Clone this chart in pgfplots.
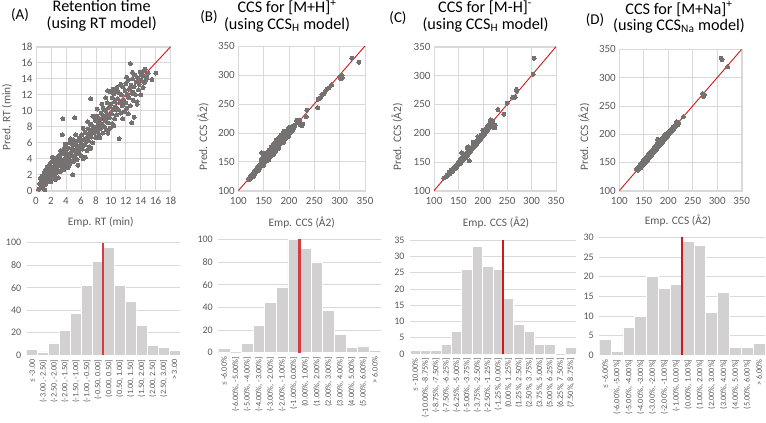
\documentclass[border=0pt]{standalone}
\usepackage{pgfplots}
\pgfplotsset{compat=1.18}
\usepackage{fontspec}
\setmainfont{Carlito}
\definecolor{gridgray}{RGB}{217,217,217}
\definecolor{tickgray}{RGB}{89,89,89}
\definecolor{dotgray}{RGB}{118,113,113}
\definecolor{barfill}{RGB}{210,208,208}
\definecolor{redl}{RGB}{205,25,25}
\definecolor{redh}{RGB}{212,60,65}
\newcommand{\fs}[1]{\fontsize{#1}{#1}\selectfont}
\pgfplotsset{
  scat/.style={scale only axis, axis line style={draw=gridgray}, grid=major,
    major grid style={draw=gridgray, line width=0.6pt}, tick style={draw=none},
    tick label style={font=\fs{11}, color=tickgray},
    /pgf/number format/assume math mode=true,
    xticklabel style={yshift=-3pt}},
  dots/.style={only marks, mark=*, mark size=2pt, color=dotgray, mark options={fill=dotgray, draw=dotgray, line width=0pt}},
  hist/.style={scale only axis, axis line style={draw=none}, ymajorgrids,
    major grid style={draw=gridgray, line width=0.6pt}, tick style={draw=none},
    /pgf/number format/assume math mode=true, ymin=0,
    yticklabel style={font=\fs{10}, color=tickgray, xshift=-2pt},
    xticklabel style={font=\fs{8.2}, color=tickgray, rotate=90, anchor=east, inner sep=4pt}},
  bars/.style={ybar, bar width=1, fill=barfill, draw=white, line width=0.8pt}
}
\begin{document}
\begin{tikzpicture}
\useasboundingbox (0,0) rectangle (766pt,-423pt);
% ---------------- Scatter A
\begin{axis}[scat, at={(36pt,-190.7pt)}, anchor=south west, width=134.7pt, height=144pt,
  xmin=0, xmax=18, ymin=0, ymax=18, xtick={0,2,...,18}, ytick={0,2,...,18}]
\addplot[dots] coordinates {
(0.4,0.2)(0.5,0.9)(0.6,0.4)(0.7,1.3)(0.8,0.6)(0.8,1.8)(0.9,0.9)(1.0,1.5)(1.0,0.3)(1.1,2.2)(1.2,1.0)(1.2,1.7)(1.3,2.6)(1.3,0.8)(1.4,1.4)(1.5,2.1)(1.5,3.0)(1.6,1.2)(1.7,2.5)(1.8,1.6)(1.8,3.3)(1.9,2.0)(2.0,2.8)(2.0,1.1)(2.1,3.6)(2.2,2.3)(2.3,1.7)(2.3,3.0)(2.4,2.6)(2.5,3.9)(2.5,1.9)(2.6,3.3)(2.7,2.2)(2.8,4.1)(2.8,3.0)(2.9,2.5)(3.0,3.7)(3.0,1.6)(3.1,4.4)(3.2,3.2)(3.3,2.4)(3.3,5.0)(3.4,3.8)(3.5,2.9)(3.5,4.6)(3.6,3.4)(3.7,5.2)(3.7,2.6)(3.8,4.0)(3.9,3.1)(4.0,4.8)(4.0,5.6)(4.1,3.6)(4.2,4.3)(4.3,2.9)(4.3,5.3)(4.4,4.0)(4.5,3.3)(4.5,6.0)(4.6,4.7)(4.7,3.7)(4.8,5.2)(4.9,2.0)(4.9,4.4)(5.0,6.4)(5.0,3.6)(5.1,5.0)(5.2,4.1)(5.3,5.7)(5.4,4.6)(5.5,6.2)(5.5,3.9)(5.6,5.3)(5.7,4.8)(5.8,6.6)(5.9,5.6)(6.0,4.4)(6.0,6.0)(6.1,7.0)(6.2,5.2)(6.3,4.0)(6.4,6.4)(6.5,5.7)(6.6,7.3)(6.6,4.2)(6.7,6.1)(6.8,5.0)(6.9,6.8)(7.0,7.7)(7.0,6.3)(7.1,5.5)(7.2,7.1)(7.3,8.3)(7.4,6.7)(7.5,7.6)(7.6,6.0)(7.7,8.0)(7.8,7.2)(7.9,8.8)(8.0,6.6)(8.0,7.9)(8.1,9.3)(8.2,7.4)(8.3,8.5)(8.4,6.9)(8.5,9.0)(8.6,7.8)(8.7,9.7)(8.8,8.3)(8.9,7.2)(9.0,9.3)(9.0,10.3)(9.1,8.0)(9.2,8.8)(9.3,10.0)(9.4,7.6)(9.5,9.5)(9.5,11.0)(9.6,8.5)(9.7,10.4)(9.8,9.1)(9.9,12.4)(9.9,7.8)(10.0,10.8)(10.1,9.6)(10.2,11.6)(10.2,8.4)(10.3,10.2)(10.4,12.1)(10.5,9.0)(10.5,11.1)(10.6,10.5)(10.7,12.6)(10.8,9.5)(10.9,11.5)(11.0,10.1)(11.0,12.3)(11.1,6.5)(11.2,11.0)(11.3,9.7)(11.4,12.0)(11.5,10.6)(11.6,13.0)(11.7,11.4)(11.8,9.9)(11.9,12.5)(12.0,11.0)(12.0,13.4)(12.1,10.3)(12.2,12.0)(12.3,13.8)(12.4,11.6)(12.5,12.8)(12.6,10.6)(12.6,15.9)(12.7,13.2)(12.8,8.5)(12.8,12.2)(12.9,14.0)(13.0,11.3)(13.1,9.2)(13.1,13.0)(13.2,14.5)(13.3,12.0)(13.4,13.6)(13.5,11.1)(13.6,14.1)(13.7,12.6)(13.8,13.3)(13.9,14.8)(14.0,12.0)(14.1,13.8)(14.2,14.4)(14.3,12.9)(14.4,15.0)(14.5,13.5)(14.6,15.2)(14.8,14.2)(15.0,14.7)(15.5,13.9)(16.0,14.7)
(3.6,9.0)(5.2,9.1)(3.5,7.0)(7.3,11.5)(10.3,12.7)(9.6,12.5)(1.2,0.1)(0.6,1.6)(2.2,4.2)(2.6,1.4)(3.9,5.8)(4.6,6.5)(5.3,7.0)(6.3,7.8)(6.9,8.6)(7.6,9.3)(8.2,10.2)(8.8,10.8)(9.3,11.6)(10.8,12.9)(11.3,13.3)(12.1,14.2)(12.9,14.8)(5.6,3.2)(7.3,5.3)(8.5,6.6)(9.6,7.2)(10.4,8.1)(11.6,9.0)(12.3,9.6)(13.5,10.8)(6.1,6.4)(7.4,7.3)(8.3,8.1)(9.4,9.0)(10.7,10.1)(11.8,11.0)(13.0,12.3)(14.1,14.6)(14.7,13.9)(4.1,4.5)(4.9,5.8)(5.8,5.5)(3.2,4.1)(2.9,3.5)(1.6,2.0)(2.4,2.0)
};
\addplot[redl, line width=0.9pt] coordinates {(0,0)(18,18)};
\end{axis}
% ---------------- Scatter B
\begin{axis}[scat, at={(238.3pt,-190.7pt)}, anchor=south west, width=126.7pt, height=144.7pt,
  xmin=100, xmax=350, ymin=100, ymax=350, xtick={100,150,...,350}, ytick={100,150,...,350}]
\addplot[dots] coordinates {
(120,121)(122,119)(124,126)(125,122)(127,124)(128,129)(129,126)(130,131)(131,127)(132,134)(133,130)(134,136)(135,132)(136,138)(137,134)(138,141)(139,136)(140,143)(140,139)(141,137)(142,145)(143,141)(144,147)(144,142)(145,149)(146,145)(146,166)(147,151)(148,146)(149,153)(150,148)(150,155)(151,151)(152,157)(153,150)(153,159)(154,154)(155,160)(156,152)(156,162)(157,157)(158,164)(159,155)(160,166)(160,160)(161,163)(162,168)(163,158)(163,170)(164,165)(165,172)(166,162)(166,168)(167,174)(168,165)(168,171)(169,176)(170,167)(170,173)(171,178)(172,170)(172,182)(173,175)(174,168)(174,180)(175,176)(176,184)(176,172)(177,179)(178,186)(178,174)(179,182)(180,188)(180,177)(181,184)(182,190)(182,180)(183,186)(184,192)(184,182)(185,188)(186,194)(186,184)(187,190)(188,196)(188,186)(189,192)(190,198)(190,188)(191,194)(192,200)(192,190)(193,196)(194,202)(194,192)(195,198)(196,204)(196,194)(197,200)(198,206)(198,196)(199,202)(200,208)(200,198)(201,204)(202,210)(202,200)(203,206)(204,208)(205,202)(206,211)(207,205)(208,212)(209,208)(210,210)(212,214)
(170,181)(175,187)(180,192)(165,176)(160,170)(185,197)(190,203)(155,165)(150,160)(145,154)(150,144)(160,153)(170,163)(180,173)(190,184)(200,194)(140,135)(130,125)
(215,222)(218,220)(220,217)(222,214)(225,212)(227,215)(221,222)(234,228)(235,239)(257,243)(258,258)(262,261)(265,266)(268,267)(271,270)(275,275)(279,278)(284,283)(300,297)(302,293)(305,295)(305,299)(324,329)(338,322)
};
\addplot[redl, line width=0.9pt] coordinates {(100,100)(350,350)};
\end{axis}
% ---------------- Scatter C
\begin{axis}[scat, at={(434pt,-190.7pt)}, anchor=south west, width=122pt, height=144pt,
  xmin=100, xmax=350, ymin=100, ymax=350, xtick={100,150,...,350}, ytick={100,150,...,350}]
\addplot[dots] coordinates {
(120,122)(124,124)(127,128)(129,127)(131,132)(133,130)(135,136)(136,133)(138,137)(139,135)(140,140)(141,137)(143,141)(144,138)(145,143)(146,140)(148,146)(149,144)(150,149)(151,146)(152,150)(153,147)(154,153)(155,149)(156,155)(157,151)(157,166)(158,157)(159,153)(160,158)(161,155)(162,160)(163,157)(164,163)(165,159)(166,162)(167,165)(168,161)(168,174)(169,167)(170,164)(170,176)(171,169)(172,152)(172,166)(173,171)(174,168)(175,174)(176,170)(177,175)(178,172)(179,177)(180,174)(180,184)(181,179)(182,176)(183,181)(184,178)(185,183)(186,180)(187,186)(188,182)(189,187)(190,185)(190,194)(191,189)(192,186)(193,191)(194,188)(195,193)(196,190)(197,196)(198,193)(199,197)(200,195)(200,205)(201,199)(202,196)(203,201)(204,198)(205,205)(206,202)(207,208)(208,204)(209,210)(210,206)(211,212)(212,208)(213,214)(214,210)(215,218)(216,223)(218,216)(220,221)(222,212)(224,209)(225,214)(219,219)(231,241)(243,233)(250,252)(261,262)(266,262)(269,276)(270,273)(303,302)(305,330)
};
\addplot[redl, line width=0.9pt] coordinates {(100,100)(350,350)};
\end{axis}
% ---------------- Scatter D
\begin{axis}[scat, at={(619.3pt,-190.7pt)}, anchor=south west, width=122.4pt, height=141.4pt,
  xmin=100, xmax=350, ymin=100, ymax=350, xtick={100,150,...,350}, ytick={100,150,...,350}]
\addplot[dots] coordinates {
(135,138)(137,140)(138,136)(140,142)(141,139)(143,145)(144,141)(145,147)(146,143)(147,150)(148,145)(149,152)(150,147)(151,154)(152,149)(153,156)(154,151)(155,158)(156,153)(157,160)(158,155)(159,162)(160,157)(160,165)(161,159)(162,166)(163,160)(164,168)(165,162)(166,170)(167,164)(168,172)(169,166)(170,174)(170,168)(171,176)(172,170)(173,178)(174,172)(175,180)(176,174)(177,182)(178,176)(178,191)(179,183)(180,178)(181,186)(182,180)(183,188)(184,182)(185,190)(186,184)(187,192)(188,186)(189,194)(190,188)(191,196)(192,190)(193,198)(194,192)(195,200)(196,194)(197,199)(198,196)(199,202)(200,198)(201,204)(202,200)(203,206)(204,202)(205,208)(206,204)(207,210)(208,206)(209,212)(210,208)(211,213)(212,210)(214,214)(216,218)(217,222)(219,216)(221,220)(231,231)(270,272)(272,267)(274,270)(308,334)(310,332)(321,319)
};
\addplot[redl, line width=0.9pt] coordinates {(100,100)(350,350)};
\end{axis}
% ---------------- Histogram A
\begin{axis}[hist, at={(26.7pt,-355.3pt)}, anchor=south west, width=153.3pt, height=112.6pt,
  xmin=-0.5, xmax=13.5, ymax=100, ytick={0,20,...,100}, xtick={0,...,13},
  xticklabels={{≤ -3.00},{(-3.00, -2.50]},{(-2.50, -2.00]},{(-2.00, -1.50]},{(-1.50, -1.00]},{(-1.00, -0.50]},{(-0.50, 0.00]},{(0.00, 0.50]},{(0.50, 1.00]},{(1.00, 1.50]},{(1.50, 2.00]},{(2.00, 2.50]},{(2.50, 3.00]},{> 3.00}}]
\addplot[bars] coordinates {(0,5)(1,3)(2,11)(3,22)(4,37)(5,62)(6,83)(7,96)(8,62)(9,48)(10,27)(11,9)(12,7)(13,4)};
\addplot[redh, line width=2.2pt] coordinates {(6.5,0)(6.5,100)};
\end{axis}
% ---------------- Histogram B
\begin{axis}[hist, at={(218.3pt,-352.7pt)}, anchor=south west, width=162.4pt, height=113.4pt,
  xmin=-0.5, xmax=13.5, ymax=100, ytick={0,20,...,100}, xtick={0,...,13},
  xticklabels={{≤ -6.00\%},{(-6.00\%, -5.00\%]},{(-5.00\%, -4.00\%]},{(-4.00\%, -3.00\%]},{(-3.00\%, -2.00\%]},{(-2.00\%, -1.00\%]},{(-1.00\%, 0.00\%]},{(0.00\%, 1.00\%]},{(1.00\%, 2.00\%]},{(2.00\%, 3.00\%]},{(3.00\%, 4.00\%]},{(4.00\%, 5.00\%]},{(5.00\%, 6.00\%]},{> 6.00\%}}]
\addplot[bars] coordinates {(0,4)(2,8)(3,24)(4,44)(5,58)(6,100)(7,92)(8,80)(9,37)(10,16)(11,5)(12,6)(13,2)};
\addplot[redh, line width=2.2pt] coordinates {(6.5,0)(6.5,100)};
\end{axis}
% ---------------- Histogram C
\begin{axis}[hist, at={(410pt,-354pt)}, anchor=south west, width=166pt, height=114pt,
  xmin=-0.5, xmax=15.5, ymax=35, ytick={0,5,...,35}, xtick={0,...,15},
  xticklabels={{≤ -10.00\%},{(-10.00\%, -8.75\%]},{(-8.75\%, -7.50\%]},{(-7.50\%, -6.25\%]},{(-6.25\%, -5.00\%]},{(-5.00\%, -3.75\%]},{(-3.75\%, -2.50\%]},{(-2.50\%, -1.25\%]},{(-1.25\%, 0.00\%]},{(0.00\%, 1.25\%]},{(1.25\%, 2.50\%]},{(2.50\%, 3.75\%]},{(3.75\%, 5.00\%]},{(5.00\%, 6.25\%]},{(6.25\%, 7.50\%]},{(7.50\%, 8.75\%]}}]
\addplot[bars] coordinates {(0,1)(1,1)(2,1)(3,3)(4,7)(5,26)(6,33)(7,27)(8,26)(9,17)(10,9)(11,7)(12,3)(13,3)(15,2)};
\addplot[redl, line width=2pt] coordinates {(8.5,0)(8.5,35)};
\end{axis}
% ---------------- Histogram D
\begin{axis}[hist, at={(599.3pt,-355.3pt)}, anchor=south west, width=165.7pt, height=118pt,
  xmin=-0.5, xmax=13.5, ymax=30, ytick={0,5,...,30}, xtick={0,...,13},
  xticklabels={{≤ -6.00\%},{(-6.00\%, -5.00\%]},{(-5.00\%, -4.00\%]},{(-4.00\%, -3.00\%]},{(-3.00\%, -2.00\%]},{(-2.00\%, -1.00\%]},{(-1.00\%, 0.00\%]},{(0.00\%, 1.00\%]},{(1.00\%, 2.00\%]},{(2.00\%, 3.00\%]},{(3.00\%, 4.00\%]},{(4.00\%, 5.00\%]},{(5.00\%, 6.00\%]},{> 6.00\%}}]
\addplot[bars] coordinates {(0,4)(1,1)(2,7)(3,10)(4,20)(5,17)(6,18)(7,29)(8,28)(9,11)(10,16)(11,2)(12,2)(13,3)};
\addplot[redl, line width=1.6pt] coordinates {(6.5,0)(6.5,30)};
\end{axis}
% ---------------- Titles and labels
\begin{scope}[every node/.style={inner sep=0pt}]
\node[anchor=base, font=\fs{15}] at (20pt,-19.5pt) {(A)};
\node[anchor=base, font=\fs{16.2}] at (101.7pt,-11.7pt) {Retention time};
\node[anchor=base, font=\fs{16.2}] at (101.7pt,-28.5pt) {(using RT model)};
\node[anchor=base, font=\fs{15}] at (209pt,-21pt) {(B)};
\node[anchor=base, font=\fs{16.2}] at (287pt,-12.7pt) {CCS for [M+H]\textsuperscript{+}};
\node[anchor=base, font=\fs{16.2}] at (287pt,-29.3pt) {(using CCS\textsubscript{H} model)};
\node[anchor=base, font=\fs{15}] at (398pt,-22.5pt) {(C)};
\node[anchor=base, font=\fs{16.2}] at (485pt,-12.7pt) {CCS for [M-H]\textsuperscript{-}};
\node[anchor=base, font=\fs{16.2}] at (485.5pt,-29.3pt) {(using CCS\textsubscript{H} model)};
\node[anchor=base, font=\fs{15}] at (595pt,-24pt) {(D)};
\node[anchor=base, font=\fs{16.2}] at (679pt,-14pt) {CCS for [M+Na]\textsuperscript{+}};
\node[anchor=base, font=\fs{16.2}] at (679pt,-30.3pt) {(using CCS\textsubscript{Na} model)};
\node[rotate=90, font=\fs{11.4}, text=tickgray] at (7pt,-117pt) {Pred. RT (min)};
\node[rotate=90, font=\fs{11.4}, text=tickgray] at (203pt,-137pt) {Pred. CCS (Å2)};
\node[rotate=90, font=\fs{11.4}, text=tickgray] at (397pt,-137pt) {Pred. CCS (Å2)};
\node[rotate=90, font=\fs{11.4}, text=tickgray] at (584pt,-137pt) {Pred. CCS (Å2)};
\node[font=\fs{11.4}, text=tickgray] at (100.8pt,-222.5pt) {Emp. RT (min)};
\node[font=\fs{11.4}, text=tickgray] at (301.7pt,-222.5pt) {Emp. CCS (Å2)};
\node[font=\fs{11.4}, text=tickgray] at (496pt,-222.5pt) {Emp. CCS (Å2)};
\node[font=\fs{11.4}, text=tickgray] at (678pt,-221pt) {Emp. CCS (Å2)};
\end{scope}
\end{tikzpicture}
\end{document}
